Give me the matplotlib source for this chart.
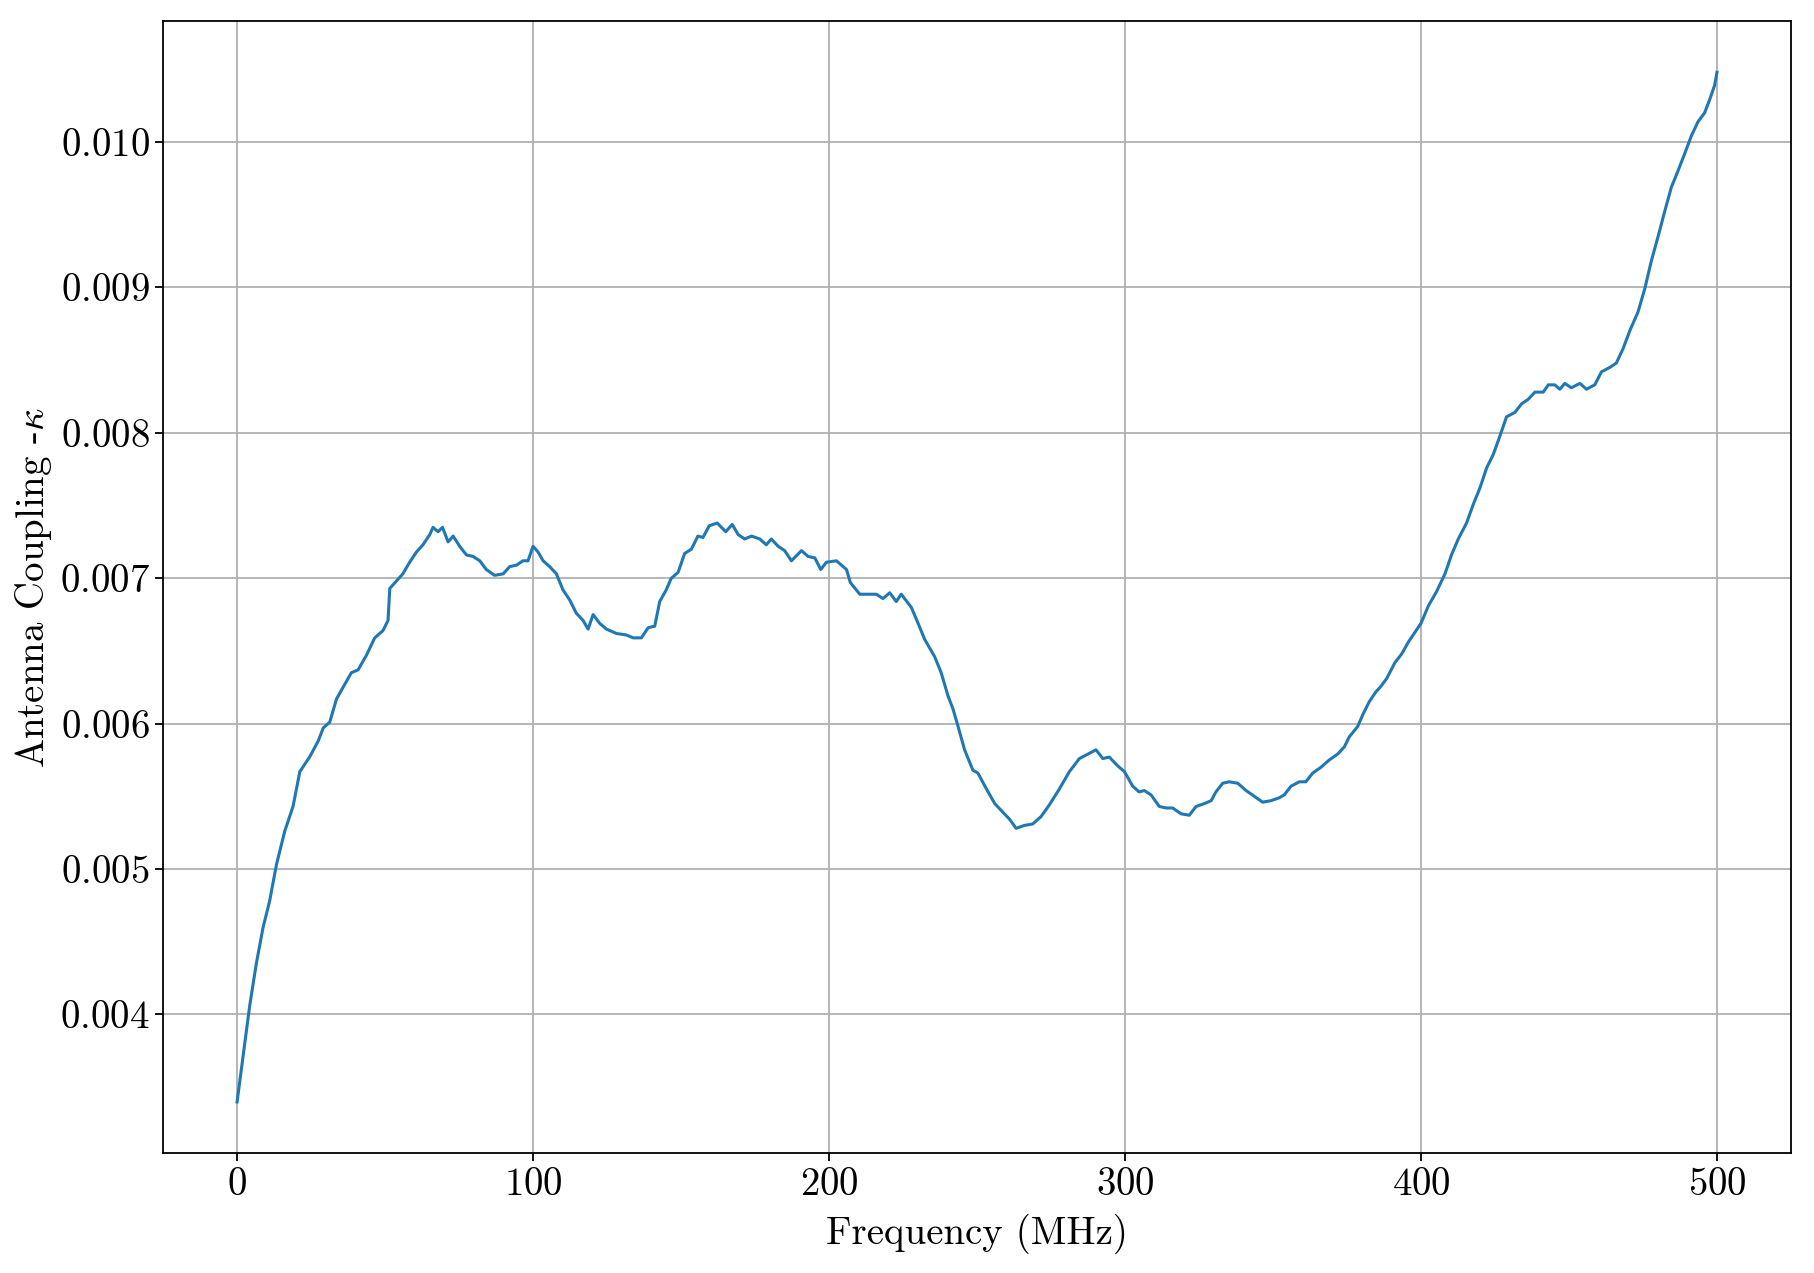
import matplotlib
matplotlib.use("Agg")
import matplotlib.pyplot as plt
from matplotlib.ticker import MultipleLocator

# frequency (MHz) and antenna coupling values
freq = [0, 4.3, 6.5, 8.8, 11, 13.3, 16.1, 18.9, 21.2, 24.5, 27.4, 29.1, 31.3, 33.6,
        36.4, 38.6, 40.9, 43.7, 46.5, 49.3, 51, 51.6, 53.8, 56, 58.3, 60.6, 62.8,
        65.1, 66.2, 67.9, 69.4, 71.3, 73, 75.2, 77.5, 79.7, 82, 84.2, 87, 89.9,
        92.1, 94.4, 96.6, 98.3, 100, 101.7, 103.4, 105.6, 107.9, 110.1, 112.4,
        114.6, 116.9, 118.6, 120.3, 122.5, 124.8, 128.2, 131.5, 133.8, 136.6,
        138.9, 141.1, 142.8, 145, 146.7, 149, 151.2, 153.5, 155.7, 157.4, 159.5,
        162.2, 165.1, 167.3, 169.3, 171.5, 173.8, 176.6, 178.8, 180.5, 182.8, 185,
        187.3, 190.7, 192.9, 195.2, 197.2, 199.1, 202.5, 205.9, 207.2, 210.4,
        213.2, 216, 218.2, 220.5, 222.7, 224.4, 227.8, 230.1, 232.3, 235.7, 237.9,
        240.2, 241.9, 243.6, 245.8, 248.6, 250.3, 253.2, 256, 258.8, 261.1, 263.2,
        266, 268.8, 271.6, 274.4, 277.8, 281.2, 284.6, 287.4, 290.2, 292.5, 294.7,
        297.5, 299.8, 302.6, 304.8, 306.5, 308.8, 311.6, 313.9, 316.1, 318.9,
        321.7, 324, 326.8, 329.1, 330.7, 333, 335.2, 338.1, 340.9, 343.7, 346.5,
        349.3, 352.1, 353.8, 356.1, 358.9, 361.1, 363.4, 366.2, 369, 371.8, 374.1,
        375.8, 378.6, 380.3, 382.5, 384.8, 386.2, 388.4, 391.2, 393.5, 395.7, 398,
        400, 402.5, 405.3, 408.1, 410.3, 412.6, 415.4, 417.7, 419.9, 422.2, 424.4,
        426.7, 428.9, 431.7, 434, 436.2, 438.5, 441.3, 443, 445.2, 446.9, 448.6,
        450.8, 453.7, 455.9, 458.7, 461, 463.8, 466, 468.3, 470.5, 473.3, 475.6,
        477.8, 480.1, 482.3, 484.6, 486.8, 489.1, 491.3, 493.6, 495.8, 497.5,
        499.2, 500]
kappa = [0.003398, 0.004065, 0.00435, 0.0046, 0.00478, 0.00503, 0.00526, 0.00543,
         0.00567, 0.00577, 0.00588, 0.00597, 0.00601, 0.00617, 0.00627, 0.00635,
         0.00637, 0.00647, 0.00659, 0.00664, 0.00671, 0.00693, 0.00698, 0.00703,
         0.00711, 0.00718, 0.00723, 0.0073, 0.00735, 0.00732, 0.00735, 0.00725,
         0.00729, 0.00722, 0.00716, 0.00715, 0.00712, 0.00706, 0.00702, 0.00703,
         0.00708, 0.00709, 0.00712, 0.00712, 0.00722, 0.00718, 0.00712, 0.00708,
         0.00703, 0.00692, 0.00685, 0.00676, 0.00671, 0.00665, 0.00675, 0.00669,
         0.00665, 0.00662, 0.00661, 0.00659, 0.00659, 0.00666, 0.00667, 0.00684,
         0.00692, 0.007, 0.00704, 0.00717, 0.0072, 0.00729, 0.00728, 0.00736,
         0.00738, 0.00732, 0.00737, 0.0073, 0.00727, 0.00729, 0.00727, 0.00723,
         0.00727, 0.00722, 0.00719, 0.00712, 0.00719, 0.00715, 0.00714, 0.00706,
         0.00711, 0.00712, 0.00706, 0.00697, 0.00689, 0.00689, 0.00689, 0.00686,
         0.0069, 0.00684, 0.00689, 0.0068, 0.00669, 0.00658, 0.00646, 0.00635,
         0.00619, 0.0061, 0.00598, 0.00582, 0.00568, 0.00566, 0.00555, 0.00545,
         0.00539, 0.00534, 0.00528, 0.0053, 0.00531, 0.00536, 0.00544, 0.00555,
         0.00567, 0.00576, 0.00579, 0.00582, 0.00576, 0.00577, 0.00571, 0.00567,
         0.00557, 0.00553, 0.00554, 0.00551, 0.00543, 0.00542, 0.00542, 0.00538,
         0.00537, 0.00543, 0.00545, 0.00547, 0.00553, 0.00559, 0.0056, 0.00559,
         0.00554, 0.0055, 0.00546, 0.00547, 0.00549, 0.00551, 0.00557, 0.0056,
         0.0056, 0.00566, 0.0057, 0.00575, 0.00579, 0.00584, 0.00591, 0.00598,
         0.00606, 0.00615, 0.00622, 0.00625, 0.00631, 0.00642, 0.00648, 0.00656,
         0.00663, 0.00669, 0.00681, 0.00691, 0.00703, 0.00716, 0.00727, 0.00738,
         0.00751, 0.00762, 0.00776, 0.00785, 0.00798, 0.00811, 0.00814, 0.0082,
         0.00823, 0.00828, 0.00828, 0.00833, 0.00833, 0.0083, 0.00834, 0.00831,
         0.00834, 0.0083, 0.00833, 0.00842, 0.00845, 0.00848, 0.00858, 0.0087,
         0.00883, 0.00899, 0.00918, 0.00935, 0.00952, 0.00969, 0.0098, 0.00992,
         0.01004, 0.01014, 0.0102, 0.01029, 0.01039, 0.01048]

plt.rcParams['font.family'] = 'serif'
plt.rcParams['font.serif'] = ['cmr10']
plt.rcParams['mathtext.fontset'] = 'cm'
plt.rcParams['axes.formatter.use_mathtext'] = True

fig = plt.figure(figsize=(18.14, 12.73), dpi=100)
ax = fig.add_axes([0.0899, 0.0939, 0.8974, 0.8898])

ax.plot(freq, kappa, color='#1f77b4', linewidth=2.2)

ax.set_xlabel("Frequency (MHz)", fontsize=28, labelpad=8)
ax.set_ylabel(r"Antenna Coupling -$\kappa$", fontsize=28)
ax.xaxis.set_major_locator(MultipleLocator(100))
ax.yaxis.set_major_locator(MultipleLocator(0.001))
ax.tick_params(labelsize=28, length=6, width=1.3)
for s in ax.spines.values():
    s.set_linewidth(1.3)
ax.grid(True, color='#b0b0b0', linewidth=1.3)

fig.savefig("out.png", dpi=100)
